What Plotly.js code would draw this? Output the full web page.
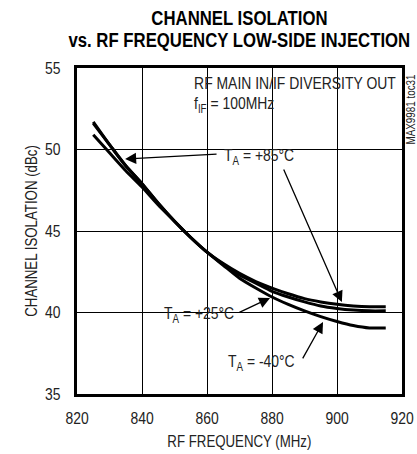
<!DOCTYPE html>
<html><head><meta charset="utf-8">
<script src="https://cdn.plot.ly/plotly-3.0.1.min.js"></script>
<style>html,body{margin:0;padding:0;background:#fff}#c{width:417px;height:454px}</style>
</head><body><div id="c"></div>
<script>
const freq = [825,830,835,840,845,850,855,860,865,870,875,880,885,890,895,900,905,910,915];
const iso85 = [51.7,50.3,49.0,47.9,46.7,45.6,44.6,43.7,43.0,42.4,41.9,41.5,41.15,40.85,40.65,40.5,40.4,40.35,40.35];
const iso25 = [50.9,49.8,48.7,47.7,46.6,45.6,44.6,43.7,42.95,42.3,41.8,41.3,40.95,40.65,40.4,40.25,40.15,40.1,40.1];
const isoM40 = [51.6,50.3,49.0,47.9,46.7,45.6,44.6,43.7,42.9,42.1,41.5,40.95,40.5,40.1,39.75,39.45,39.2,39.05,39.05];
const xTicks = [820,840,860,880,900,920];
const yTicks = [35,40,45,50,55];

const FONT = '"Liberation Sans", Arial, sans-serif';
const TXT = '#222';
const line = {color:'#000', width:3, shape:'spline', smoothing:0.6};
const traces = [
  {x:freq, y:iso85, mode:'lines', line:line, name:'+85'},
  {x:freq, y:iso25, mode:'lines', line:line, name:'+25'},
  {x:freq, y:isoM40, mode:'lines', line:line, name:'-40'}
];
function arrow(x,y,ax,ay){
  return {x:x,y:y,ax:ax,ay:ay,xref:'x',yref:'y',axref:'x',ayref:'y',text:'',showarrow:true,
    arrowhead:2,arrowsize:1.7,arrowwidth:1.3,arrowcolor:'#000'};
}
function label(t,x,y){
  return {text:t,x:x,y:y,xref:'paper',yref:'paper',xanchor:'left',yanchor:'middle',showarrow:false,
    font:{family:FONT,size:17,color:TXT}};
}
function centered(t,x,y,size,angle){
  return {text:t,x:x,y:y,xref:'paper',yref:'paper',xanchor:'center',yanchor:'middle',showarrow:false,
    textangle:angle||0,font:{family:FONT,size:size,color:TXT}};
}
function titleLine(t,y){
  return {text:'<b>'+t+'</b>',x:0.5,y:y,xref:'paper',yref:'paper',xanchor:'center',yanchor:'middle',
    showarrow:false,font:{family:FONT,size:21,color:'#000'}};
}
const layout = {
  width:417,height:454,
  margin:{l:77,r:15,t:68,b:60},
  paper_bgcolor:'#fff',plot_bgcolor:'#fff',
  showlegend:false,
  font:{family:FONT,size:17,color:TXT},
  xaxis:{range:[820,920],tickvals:xTicks,ticktext:xTicks.map(String),showgrid:true,gridcolor:'#000',gridwidth:1,
    showline:true,linecolor:'#000',linewidth:3,mirror:true,ticks:'',zeroline:false,ticklabelstandoff:7,
    tickfont:{family:FONT,size:17,color:TXT}},
  yaxis:{range:[35,55],tickvals:yTicks,ticktext:yTicks.map(String),showgrid:true,gridcolor:'#000',gridwidth:1,
    showline:true,linecolor:'#000',linewidth:3,mirror:true,ticks:'',zeroline:false,ticklabelstandoff:10,
    tickfont:{family:FONT,size:17,color:TXT}},
  annotations:[
    titleLine('CHANNEL ISOLATION',1.155),
    titleLine('vs. RF FREQUENCY LOW-SIDE INJECTION',1.087),
    centered('RF FREQUENCY (MHz)',0.5,-0.147,17,0),
    centered('CHANNEL ISOLATION (dBc)',-0.1415,0.5,17,-90),
    label('RF MAIN IN/IF DIVERSITY OUT',0.354,0.951),
    label('f<sub>IF</sub> = 100MHz',0.354,0.887),
    label('T<sub>A</sub> = +85°C',0.446,0.727),
    label('T<sub>A</sub> = +25°C',0.2615,0.242),
    label('T<sub>A</sub> = -40°C',0.458,0.095),
    arrow(834.8,49.42,863.4,49.72),
    arrow(901.5,40.64,883.4,48.87),
    arrow(879.4,40.89,869.5,39.97),
    arrow(895.7,39.42,889.2,37.09),
    centered('MAX9981 toc31',1.028,0.874,12,-90)
  ]
};
function condense(t, s, cx){
  var prev = t.getAttribute('data-orig-transform');
  if(prev===null){ prev = t.getAttribute('transform') || ''; t.setAttribute('data-orig-transform', prev); }
  t.setAttribute('transform', prev + ' translate('+cx+',0) scale('+s+',1) translate('+(-cx)+',0)');
}
Plotly.newPlot('c',traces,layout,{staticPlot:true,displayModeBar:false}).then(function(){
  var texts = Array.from(document.querySelectorAll('#c svg text'));
  var l2 = texts.find(function(t){return (t.textContent||'').indexOf('vs. RF')===0;});
  var sTitle = l2 ? 342/l2.getBBox().width : 0.8;
  texts.forEach(function(t){
    var txt = t.textContent || '';
    if(!txt.trim() || t.hasAttribute('data-orig-transform')) return;
    var bb; try{ bb = t.getBBox(); }catch(e){ return; }
    var s = 0.82, cx;
    var anchor = t.getAttribute('text-anchor') || 'start';
    var inAnn = t.closest('.annotation');
    if(inAnn && (txt.indexOf('CHANNEL ISOLATION')===0 && txt.indexOf('dBc')<0 || txt.indexOf('vs. RF')===0)){
      s = sTitle; cx = bb.x + bb.width/2;
    } else if(inAnn && (txt.indexOf('RF FREQ')===0 || txt.indexOf('dBc')>=0)){
      s = 0.78; cx = bb.x + bb.width/2;
    } else if(inAnn && txt.indexOf('MAX')===0){
      cx = bb.x + bb.width/2;
    } else if(inAnn){ cx = bb.x; }
    else if(anchor==='end'){ cx = bb.x + bb.width; }
    else if(anchor==='middle'){ cx = bb.x + bb.width/2; }
    else { cx = bb.x; }
    condense(t, s, cx);
  });
});
</script></body></html>
